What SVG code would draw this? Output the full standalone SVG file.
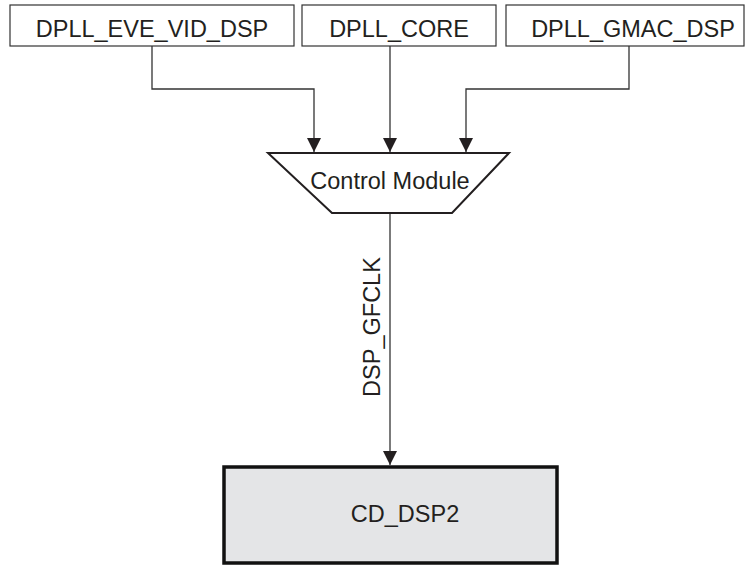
<svg xmlns="http://www.w3.org/2000/svg" width="746" height="565" viewBox="0 0 746 565">
<style>
text{font-family:"Liberation Sans",Arial,sans-serif;font-size:23.5px;fill:#231f20}
.box{fill:#fff;stroke:#333;stroke-width:1.2}
.wire{fill:none;stroke:#333;stroke-width:1.3}
</style>
<defs>
<marker id="ah" markerWidth="14" markerHeight="14" refX="14" refY="7" orient="auto" markerUnits="userSpaceOnUse" viewBox="0 0 14 14">
<path d="M0,0 L14,7 L0,14 Z" fill="#231f20"/>
</marker>
</defs>
<rect width="746" height="565" fill="#fff"/>
<g id="connectors">
<path class="wire" d="M152,46 V89 H314 V152" marker-end="url(#ah)"/>
<path class="wire" d="M390,46 V152" marker-end="url(#ah)"/>
<path class="wire" d="M629,46 V89 H466 V152" marker-end="url(#ah)"/>
<path class="wire" d="M390,213 V465" marker-end="url(#ah)"/>
<text transform="translate(380,327) rotate(-90)" text-anchor="middle">DSP_GFCLK</text>
</g>
<g id="dpll_eve_vid_dsp">
<rect class="box" x="10" y="5" width="284" height="41"/>
<text x="152" y="37" text-anchor="middle">DPLL_EVE_VID_DSP</text>
</g>
<g id="dpll_core">
<rect class="box" x="302" y="5" width="194" height="41"/>
<text x="399" y="37" text-anchor="middle">DPLL_CORE</text>
</g>
<g id="dpll_gmac_dsp">
<rect class="box" x="506" y="5" width="238" height="41"/>
<text x="633" y="37" text-anchor="middle">DPLL_GMAC_DSP</text>
</g>
<g id="control_module">
<path d="M268,153 H509 L452,213 H332 Z" fill="#fff" stroke="#231f20" stroke-width="2"/>
<text x="390" y="189" text-anchor="middle">Control Module</text>
</g>
<g id="cd_dsp2">
<rect x="224" y="467" width="333" height="96" fill="#e4e5e7" stroke="#111" stroke-width="3.5"/>
<text x="405" y="522" text-anchor="middle">CD_DSP2</text>
</g>
</svg>
